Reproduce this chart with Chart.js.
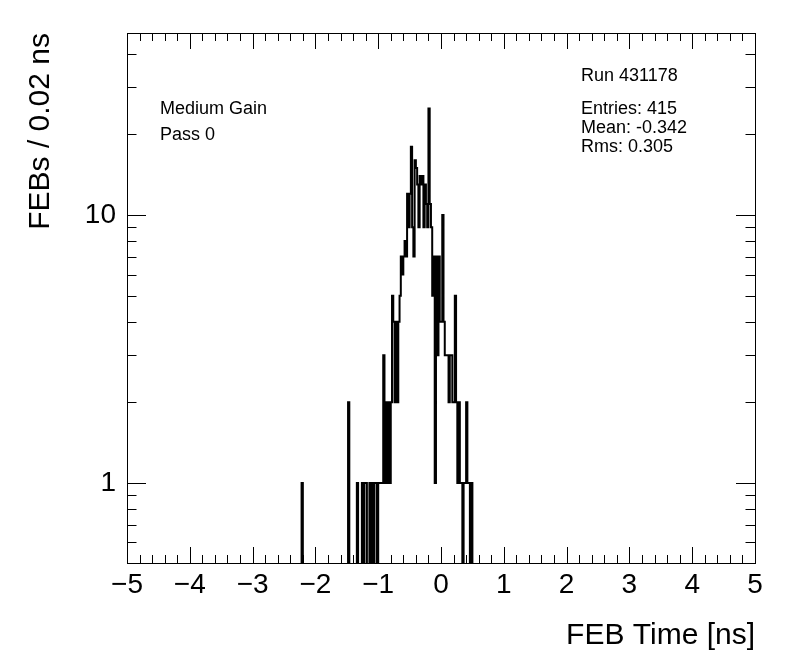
<!DOCTYPE html>
<html>
<head>
<meta charset="utf-8">
<script src="https://cdn.jsdelivr.net/npm/chart.js@4.4.1/dist/chart.umd.min.js"></script>
<style>
  html, body { margin: 0; padding: 0; background: #ffffff; }
  #c { display: block; }
</style>
</head>
<body>
<canvas id="c" width="796" height="672"></canvas>
<script>
// ---- data ----
const firstBinLow = -2.26;   // low edge of first listed bin [ns]
const binWidth = 0.02;       // ns per bin
const counts = [
  0, 0, 1, 0, 0, 0, 0, 0, 0, 0,      // -2.26 .. -2.08
  0, 0, 0, 0, 0, 0, 0, 0, 0, 0,      // -2.06 .. -1.88
  0, 0, 0, 0, 0, 0, 0, 0, 0, 0,      // -1.86 .. -1.68
  0, 0, 0, 0, 0, 0, 0, 0, 0, 2,      // -1.66 .. -1.48
  0, 0, 0, 0, 0, 0, 1, 0, 0, 0,      // -1.46 .. -1.28
  1, 0, 1, 1, 0, 0, 1, 0, 1, 0,      // -1.26 .. -1.08
  1, 1, 0, 1, 1, 1, 1, 3, 1, 2,      // -1.06 .. -0.88
  1, 2, 1, 2, 5, 4, 2, 4, 2, 4,      // -0.86 .. -0.68
  5, 7, 6, 7, 8, 7, 12, 9, 12, 18,   // -0.66 .. -0.48
  9, 7, 16, 15, 13, 9, 14, 13, 14, 9,// -0.46 .. -0.28
  13, 11, 9, 25, 11, 9, 5, 7, 1, 7,  // -0.26 .. -0.08
  3, 7, 4, 4, 10, 4, 3, 3, 3, 2,     // -0.06 .. 0.12
  3, 3, 2, 2, 5, 2, 1, 2, 1, 1,      // 0.14 .. 0.32
  0, 1, 1, 2, 1, 1, 0, 1, 0          // 0.34 .. 0.50
];
const xRange = [-5, 5];
const yRange = [0.503, 47.8];
const xTickValues = [-5, -4, -3, -2, -1, 0, 1, 2, 3, 4, 5];
const yTickValues = [1, 10];
const yMinorValues = [0.6, 0.7, 0.8, 0.9, 2, 3, 4, 5, 6, 7, 8, 9, 20, 30, 40];
const xTitle = 'FEB Time [ns]';
const yTitle = 'FEBs / 0.02 ns';
const leftNotes = ['Medium Gain', 'Pass 0'];
const rightNotes = ['Run 431178', 'Entries: 415', 'Mean: -0.342', 'Rms: 0.305'];

// ---- build histogram outline points (bin low edges + closing edge) ----
// empty bins cannot sit on a log axis: like ROOT, they drop just below the axis floor (clipped)
const emptyLevel = yRange[0] * 0.97;
const floorOf = c => (c > 0 ? c : emptyLevel);
const points = counts.map((c, i) => ({ x: firstBinLow + i * binWidth, y: floorOf(c) }));
points.push({ x: firstBinLow + counts.length * binWidth, y: emptyLevel });

const FONT = "'Liberation Sans', Arial, Helvetica, sans-serif";
Chart.defaults.font.family = FONT;
Chart.defaults.color = '#000';

const fmtX = v => (v < 0 ? '\u2212' + Math.abs(v) : String(v));

const rootFrame = {
  id: 'rootFrame',
  afterDraw(chart) {
    const ctx = chart.ctx;
    const a = chart.chartArea;
    const xs = chart.scales.x, ys = chart.scales.y;
    ctx.save();
    ctx.strokeStyle = '#000';
    ctx.lineWidth = 1;
    // frame
    ctx.strokeRect(Math.round(a.left) + 0.5, Math.round(a.top) + 0.5,
                   Math.round(a.right - a.left), Math.round(a.bottom - a.top));
    ctx.beginPath();
    // x ticks (major every 1, minor every 0.2), bottom and top, inside
    for (let k = 0; k <= 50; k++) {
      const v = xRange[0] + k * 0.2;
      const px = Math.round(xs.getPixelForValue(v)) + 0.5;
      const len = (k % 5 === 0) ? 16 : 8;
      ctx.moveTo(px, a.bottom); ctx.lineTo(px, a.bottom - len);
      ctx.moveTo(px, a.top); ctx.lineTo(px, a.top + len);
    }
    // y ticks, left and right, inside
    const yTicks = yTickValues.map(v => [v, 19]).concat(yMinorValues.map(v => [v, 9.5]));
    yTicks.forEach(([v, len]) => {
      const py = Math.round(ys.getPixelForValue(v)) + 0.5;
      ctx.moveTo(a.left, py); ctx.lineTo(a.left + len, py);
      ctx.moveTo(a.right, py); ctx.lineTo(a.right - len, py);
    });
    ctx.stroke();
    // annotations
    ctx.fillStyle = '#000';
    ctx.font = '18px ' + FONT;
    ctx.textAlign = 'left';
    ctx.textBaseline = 'alphabetic';
    ctx.fillText(leftNotes[0], 160, 114);
    ctx.fillText(leftNotes[1], 160, 140);
    ctx.fillText(rightNotes[0], 581, 81);
    ctx.fillText(rightNotes[1], 581, 114);
    ctx.fillText(rightNotes[2], 581, 133);
    ctx.fillText(rightNotes[3], 581, 152);
    ctx.restore();
  }
};

new Chart(document.getElementById('c'), {
  type: 'line',
  data: {
    datasets: [{
      data: points,
      stepped: 'before',
      borderColor: '#000',
      borderWidth: 2,
      pointRadius: 0,
      fill: false,
      tension: 0,
      clip: 0
    }]
  },
  options: {
    responsive: false,
    devicePixelRatio: 1,
    animation: false,
    events: [],
    layout: { padding: { top: 33, right: 41, bottom: 0, left: 0 } },
    plugins: { legend: { display: false }, tooltip: { enabled: false } },
    scales: {
      x: {
        type: 'linear',
        position: 'bottom',
        min: xRange[0], max: xRange[1],
        afterFit: s => { s.height = 109; },
        afterBuildTicks: s => { s.ticks = xTickValues.map(v => ({ value: v })); },
        grid: { display: false, drawTicks: false },
        border: { display: false },
        ticks: {
          padding: 5, color: '#000', autoSkip: false, maxRotation: 0,
          font: { family: FONT, size: 28 },
          callback: v => fmtX(v)
        },
        title: {
          display: true, text: xTitle, align: 'end', color: '#000',
          font: { family: FONT, size: 30 }, padding: { top: 0, bottom: 18 }
        }
      },
      y: {
        type: 'logarithmic',
        position: 'left',
        min: yRange[0], max: yRange[1],
        afterFit: s => { s.width = 127; },
        afterBuildTicks: s => { s.ticks = yTickValues.map(v => ({ value: v })); },
        grid: { display: false, drawTicks: false },
        border: { display: false },
        ticks: {
          padding: 11, color: '#000', autoSkip: false,
          font: { family: FONT, size: 28 },
          callback: v => String(v)
        },
        title: {
          display: true, text: yTitle, align: 'end', color: '#000',
          font: { family: FONT, size: 30 }, padding: { top: 23, bottom: 0 }
        }
      }
    }
  },
  plugins: [rootFrame]
});
</script>
</body>
</html>
